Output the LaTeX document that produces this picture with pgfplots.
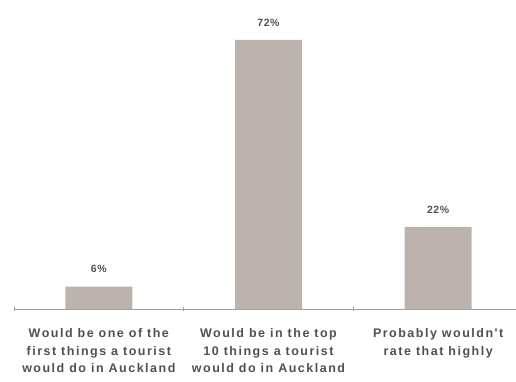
\documentclass[border=0pt]{standalone}
\usepackage{pgfplots}
\pgfplotsset{compat=1.18}
\usepackage{fontspec}
\setmainfont{Liberation Sans}
\newfontfamily\catfont[LetterSpace=12]{Liberation Sans}
\newfontfamily\valfont[LetterSpace=5]{Liberation Sans}
\definecolor{barfill}{HTML}{BDB3AE}
\definecolor{axisgray}{HTML}{A0A0A0}
\definecolor{labelgray}{HTML}{505050}
\begin{document}
\begin{tikzpicture}[x=1pt,y=1pt]
\path[use as bounding box] (0,0) rectangle (516,381);
\begin{axis}[
  at={(14pt,72pt)}, anchor=south west,
  scale only axis,
  width=509pt, height=299pt,
  xmin=-0.5, xmax=2.5, ymin=0, ymax=80,
  axis y line=none,
  axis x line*=bottom,
  axis line style={axisgray, line width=0.8pt},
  x axis line style={-},
  xtick={0,1,2},
  xticklabels={{Would be one of the\\first things a tourist\\would do in Auckland},
               {Would be in the top\\10 things a tourist\\would do in Auckland},
               {Probably wouldn't\\rate that highly}},
  major tick length=0pt,
  extra x ticks={-0.5,0.5,1.5},
  extra x tick labels={},
  extra x tick style={major tick length=4pt, tick align=center, tick style={axisgray, line width=0.8pt}},
  xticklabel style={align=center, font=\catfont\bfseries\fontsize{12.5}{17.5}\selectfont, text=labelgray, anchor=north, yshift=-16pt},
  ybar, bar width=67pt,
  clip=false,
  /pgf/number format/assume math mode=true,
  nodes near coords={\pgfmathprintnumber{\pgfplotspointmeta}\%},
  every node near coord/.append style={font=\valfont\bfseries\fontsize{10.5}{11}\selectfont, text=labelgray, yshift=10pt},
]
\addplot[fill=barfill, draw=none] coordinates {(0,6) (1,72) (2,22)};
\end{axis}
\end{tikzpicture}
\end{document}
